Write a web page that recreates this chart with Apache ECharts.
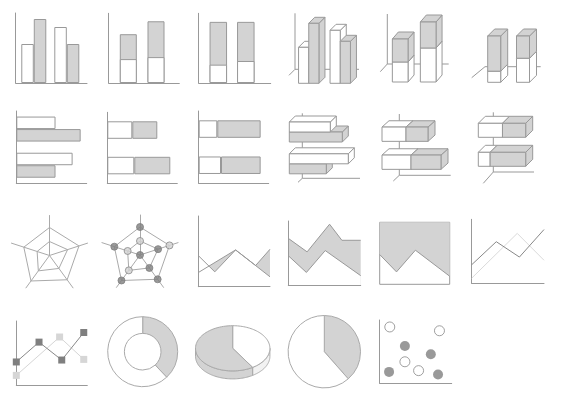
<!DOCTYPE html>
<html>
<head>
<meta charset="utf-8">
<title>Chart types</title>
<style>
    html, body { margin: 0; padding: 0; background: #fff; }
    #page { width: 568px; height: 401px; }
</style>
</head>
<body>
<div id="page"></div>
<script src="https://cdn.jsdelivr.net/npm/echarts@6/dist/echarts.min.js"></script>
<script>
var AX = '#999', GRAY = '#d3d3d3', DARK = '#7f7f7f', SOFT = '#d6d6d6', WEB = '#aaa';

// row 1 - columns (positions 1 and 2 on the x axis)
var colPos = [1, 2];
var colWhite = [39, 56], colGray = [64, 39];
var stkWhite = [24, 26], stkGray = [25, 36];
var pctWhite = [30, 36], pctGray = [70, 64];

// row 2 - bars
var barCats = ['a', 'b'];
var barWhite = [39, 56], barGray = [64, 39];
var hStkWhite = [25, 27], hStkGray = [25, 36];
var hPctWhite = [30, 36], hPctGray = [70, 64];

// 3d columns / bars
var cubeColWhite = [36, 53], cubeColGray = [60, 42];
var cubeStkWhite = [20, 34], cubeStkGray = [23, 26];
var cubePctWhite = [24, 52], cubePctGray = [76, 48];
var cubeBarWhite = [41, 59], cubeBarGray = [53, 37];
var cubeHStkWhite = [24, 29], cubeHStkGray = [22, 30];
var cubeHPctWhite = [51, 25], cubeHPctGray = [49, 75];

// row 3 - radar (top, upper left, lower left, lower right, upper right)
var radarOuter = [28, 27, 31.5, 30, 31];
var radarInner = [14, 13, 19, 16, 19];
var radarHub = [0];
var outerDark = [1, 1, 1, 1, 0];
var innerDark = [0, 0, 0, 1, 1];

// row 3 - areas and lines
var overFront = [[0, 44], [23, 21], [52, 52], [100, 14]];
var overBack = [[0, 20], [52, 52], [80, 30], [100, 53]];
var bandTop = [[0, 73], [26, 52], [57, 95], [74, 70], [100, 70]];
var bandBottom = [[0, 46], [25, 20], [51, 54], [100, 15]];
var capLine = [[0, 48], [24, 20], [51, 55], [100, 13]];
var lineDark = [[0, 29], [34, 65], [66, 41], [100, 84]];
var lineSoft = [[0, 8], [63, 78], [100, 36]];

// row 4
var markDark = [[0, 36], [32, 67], [64, 39], [95, 82]];
var markSoft = [[0, 15], [61, 75], [95, 40]];
var donutShares = [38, 62];
var pie3dShares = [41, 59];
var pieShares = [38.5, 61.5];
var dotsOpen = [[14, 89], [83, 83], [35, 34], [54, 20]];
var dotsFull = [[35, 59], [71, 46], [13, 18], [81, 14]];

var grid = [], xAxis = [], yAxis = [], series = [];

function axis(type, min, max, line, extra) {
    var a = {
        type: type, min: min, max: max, z: 3,
        axisLine: {show: line, onZero: false, lineStyle: {color: AX, width: 1}},
        axisTick: {show: false}, axisLabel: {show: false}, splitLine: {show: false}
    };
    for (var k in extra) a[k] = extra[k];
    return a;
}

function addGrid(left, top, width, height, xa, ya, box) {
    var i = grid.length;
    grid.push({
        left: left, top: top, width: width, height: height, z: 3,
        show: !!box, borderColor: AX, borderWidth: box ? 1 : 0, backgroundColor: 'transparent'
    });
    xa.gridIndex = i;
    ya.gridIndex = i;
    xAxis.push(xa);
    yAxis.push(ya);
    return i;
}

function pairs(pos, vals) {
    return pos.map(function (p, i) { return [p, vals[i]]; });
}

function sums(a, b) {
    return a.map(function (v, i) { return v + b[i]; });
}

function bars(gi, data, fill, extra) {
    var s = {
        type: 'bar', xAxisIndex: gi, yAxisIndex: gi, data: data, barGap: 0, silent: true,
        itemStyle: {color: fill, borderColor: AX, borderWidth: 1}
    };
    for (var k in extra) s[k] = extra[k];
    // stacks are shared by name across grids, so keep them per grid
    if (s.stack) s.stack = s.stack + gi;
    series.push(s);
}

// columns on a value x axis do not stack, so the total goes behind the lower part
function layered(gi, lower, upper, width) {
    bars(gi, pairs(colPos, sums(lower, upper)), GRAY, {barWidth: width});
    bars(gi, pairs(colPos, lower), '#fff', {barWidth: width, barGap: '-100%'});
}

// pseudo 3d boxes: front face + top + right side
function cubeRender(cfg) {
    var dx = cfg.depth[0], dy = cfg.depth[1], bw = cfg.bw;
    return function (params, api) {
        var pos = api.value(0), v0 = api.value(1), v1 = api.value(2);
        var fill = api.value(3) ? GRAY : '#fff', slot = api.value(4);
        var xl, xr, yt, yb;
        if (cfg.horizontal) {
            var a = api.coord([v0, pos]), b = api.coord([v1, pos]);
            xl = a[0]; xr = b[0];
            yt = a[1] + (slot - 1) * bw; yb = yt + bw;
        } else {
            var p = api.coord([pos, v0]), q = api.coord([pos, v1]);
            xl = p[0] + (slot - 1) * bw; xr = xl + bw;
            yb = p[1]; yt = q[1];
        }
        var st = {fill: fill, stroke: AX, lineWidth: 1};
        return {
            type: 'group', children: [
                {type: 'polygon', shape: {points: [[xr, yt], [xr, yb], [xr + dx, yb + dy], [xr + dx, yt + dy]]}, style: st},
                {type: 'polygon', shape: {points: [[xl, yt], [xr, yt], [xr + dx, yt + dy], [xl + dx, yt + dy]]}, style: st},
                {type: 'rect', shape: {x: xl, y: yt, width: xr - xl, height: yb - yt}, style: st}
            ]
        };
    };
}

function cubes(gi, white, gray, cfg) {
    var items = [];
    white.forEach(function (w, i) {
        var g = gray[i];
        if (cfg.stack) {
            items.push([i + 1, 0, w, 0, 0.5]);
            items.push([i + 1, w, w + g, 1, 0.5]);
        } else if (cfg.horizontal) {
            items.push([i + 1, 0, g, 1, 1]);
            items.push([i + 1, 0, w, 0, 0]);
        } else {
            items.push([i + 1, 0, w, 0, 0]);
            items.push([i + 1, 0, g, 1, 1]);
        }
    });
    series.push({type: 'custom', xAxisIndex: gi, yAxisIndex: gi, data: items, silent: true, z: 2, renderItem: cubeRender(cfg)});
}

// back walls of the 3d charts
function frame(gi, f) {
    series.push({
        type: 'custom', xAxisIndex: gi, yAxisIndex: gi, data: [[1, 0]], silent: true, z: 1,
        renderItem: function (params, api) {
            var cs = params.coordSys;
            var cx = cs.x + f.corner[0], cy = cs.y + cs.height + f.corner[1];
            var st = {stroke: AX, lineWidth: 1};
            var kids = [
                {type: 'line', shape: {x1: cx, y1: cy, x2: cx + f.right, y2: cy}, style: st},
                {type: 'line', shape: {x1: cx, y1: cy, x2: cx + f.diag[0], y2: cy + f.diag[1]}, style: st}
            ];
            if (f.up) kids.push({type: 'line', shape: {x1: cx, y1: cy, x2: cx, y2: cy - f.up}, style: st});
            return {type: 'group', children: kids};
        }
    });
}

function line(gi, data, color, extra) {
    var s = {
        type: 'line', xAxisIndex: gi, yAxisIndex: gi, data: data, symbol: 'none', silent: true, clip: false,
        lineStyle: {color: color, width: 1}, itemStyle: {color: color}
    };
    for (var k in extra) s[k] = extra[k];
    series.push(s);
}

var g;
// ---- row 1
g = addGrid(15.7, 13, 71.3, 70, axis('value', 0.452, 2.612, true), axis('value', 0, 70, true));
bars(g, pairs(colPos, colWhite), '#fff', {barWidth: 12.5});
bars(g, pairs(colPos, colGray), GRAY, {barWidth: 12.5});

g = addGrid(108.7, 13.3, 70.6, 69.7, axis('value', 0.292, 2.841, true), axis('value', 0, 70, true));
layered(g, stkWhite, stkGray, 17);

g = addGrid(198.7, 13.3, 72, 69.7, axis('value', 0.287, 2.905, true), axis('value', 0, 114, true));
layered(g, pctWhite, pctGray, 17.5);

g = addGrid(293, 13.3, 63, 70, axis('value', 0.5, 2.5, false), axis('value', 0, 70, false));
frame(g, {corner: [2, -14], up: 56, right: 64, diag: [-6, 6]});
cubes(g, cubeColWhite, cubeColGray, {bw: 10.2, depth: [6, -6]});

g = addGrid(386.2, 14, 56, 68, axis('value', 0.5, 2.5, false), axis('value', 0, 68, false));
frame(g, {corner: [1.1, -18], up: 50, right: 61.4, diag: [-7, 7.7]});
cubes(g, cubeStkWhite, cubeStkGray, {bw: 15.7, depth: [6, -7], stack: true});

g = addGrid(479.8, 36, 57.6, 46.3, axis('value', 0.5, 2.5, false), axis('value', 0, 100, false));
frame(g, {corner: [5.2, -15.6], up: 0, right: 55.7, diag: [-13.3, 11]});
cubes(g, cubePctWhite, cubePctGray, {bw: 13, depth: [7, -7], stack: true});

// ---- row 2
g = addGrid(16.3, 111, 70.4, 72.3, axis('value', 0, 70, true), axis('category', undefined, undefined, true, {data: barCats, inverse: true}));
bars(g, barWhite, '#fff', {barWidth: 12.5});
bars(g, barGray, GRAY, {barWidth: 12.5});

g = addGrid(107.3, 112.3, 70, 71, axis('value', 0, 70, true), axis('category', undefined, undefined, true, {data: barCats, inverse: true}));
bars(g, hStkWhite, '#fff', {barWidth: 17.5, stack: 's'});
bars(g, hStkGray, GRAY, {barWidth: 17.5, stack: 's'});

g = addGrid(198.7, 111, 70, 72.3, axis('value', 0, 113, true), axis('category', undefined, undefined, true, {data: barCats, inverse: true}));
bars(g, hPctWhite, '#fff', {barWidth: 17.5, stack: 's'});
bars(g, hPctGray, GRAY, {barWidth: 17.5, stack: 's'});

g = addGrid(289.3, 116.1, 70, 63.6, axis('value', 0, 70, false), axis('value', 0.5, 2.5, false, {inverse: true}));
frame(g, {corner: [13, -1.4], up: 65, right: 57.7, diag: [-4.3, 4]});
cubes(g, cubeBarWhite, cubeBarGray, {bw: 10, depth: [6, -6], horizontal: true});

g = addGrid(382, 120.2, 70, 56, axis('value', 0, 70, false), axis('value', 0.5, 2.5, false, {inverse: true}));
frame(g, {corner: [17.3, -0.9], up: 61.3, right: 51.4, diag: [-6, 5.7]});
cubes(g, cubeHStkWhite, cubeHStkGray, {bw: 14.3, depth: [7, -6.3], horizontal: true, stack: true});

g = addGrid(478.3, 115.8, 47.4, 58, axis('value', 0, 100, false), axis('value', 0.5, 2.5, false, {inverse: true}));
frame(g, {corner: [15, -1.8], up: 59.7, right: 40.7, diag: [-10, 11.3]});
cubes(g, cubeHPctWhite, cubeHPctGray, {bw: 14, depth: [7, -7], horizontal: true, stack: true});

// ---- row 3
var radar = [[49.5, 255.5], [140, 255]].map(function (c) {
    return {
        center: c, radius: 40, startAngle: 90, shape: 'polygon', splitNumber: 1,
        indicator: radarOuter.map(function () { return {name: '', max: 40}; }),
        axisName: {show: false}, splitLine: {show: false}, splitArea: {show: false},
        axisLine: {lineStyle: {color: WEB, width: 1}}, axisTick: {show: false}, axisLabel: {show: false}
    };
});
[0, 1].forEach(function (k) {
    series.push({
        type: 'radar', radarIndex: k, symbol: 'none', silent: true,
        lineStyle: {color: WEB, width: 1},
        data: [{value: radarOuter}, {value: radarInner}]
    });
});

var darkDot = {color: DARK, borderColor: DARK, borderWidth: 1};
var softDot = {color: GRAY, borderColor: '#888', borderWidth: 1};
function radarMarks(vals, dark) {
    return vals.map(function (v, i) {
        return {value: [v, 90 + 72 * i], itemStyle: dark[i] ? darkDot : softDot};
    });
}
series.push({
    type: 'scatter', coordinateSystem: 'polar', polarIndex: 0, symbolSize: 7, silent: true, z: 4,
    data: radarMarks(radarOuter, outerDark).concat(radarMarks(radarInner, innerDark))
        .concat([{value: [radarHub[0], 90], itemStyle: darkDot}])
});

g = addGrid(198.3, 216, 71.7, 70.7, axis('value', 0, 100, true), axis('value', 0, 100, true));
line(g, overBack, AX, {areaStyle: {color: GRAY, opacity: 1}});
line(g, overFront, AX, {areaStyle: {color: '#fff', opacity: 1}});

g = addGrid(288.3, 221, 72.4, 64.3, axis('value', 0, 100, true), axis('value', 0, 100, true));
line(g, bandTop, AX, {areaStyle: {color: GRAY, opacity: 1}});
line(g, bandBottom, AX, {areaStyle: {color: '#fff', opacity: 1}});

g = addGrid(379.7, 222.3, 70, 62, axis('value', 0, 100, false), axis('value', 0, 100, false), true);
line(g, capLine, AX, {areaStyle: {color: GRAY, opacity: 1, origin: 'end'}});

g = addGrid(471.7, 219.3, 72.3, 64, axis('value', 0, 100, true), axis('value', 0, 100, true));
line(g, lineSoft, '#dadada');
line(g, lineDark, '#888');

// ---- row 4
g = addGrid(16.3, 321, 71, 64, axis('value', 0, 100, true), axis('value', 0, 100, true));
line(g, markSoft, SOFT, {symbol: 'rect', symbolSize: 7, showSymbol: true});
line(g, markDark, '#888', {symbol: 'rect', symbolSize: 7, showSymbol: true, itemStyle: {color: DARK}});

function slices(shares, colors) {
    return shares.map(function (v, i) { return {value: v, itemStyle: {color: colors[i]}}; });
}
var pieCommon = {
    type: 'pie', startAngle: 90, silent: true, label: {show: false}, labelLine: {show: false},
    itemStyle: {borderColor: WEB, borderWidth: 1}, emphasis: {disabled: true}
};
series.push(Object.assign({}, pieCommon, {center: [142.7, 351.7], radius: [18.3, 35], data: slices(donutShares, [GRAY, '#fff'])}));
series.push(Object.assign({}, pieCommon, {center: [324.3, 351.7], radius: 36.2, data: slices(pieShares, [GRAY, '#fff'])}));

// 3d pie on its own grid: x and y run -1..1 over the ellipse
g = addGrid(195.5, 325.7, 74.4, 45.2, axis('value', -1, 1, false), axis('value', -1, 1, false));
var pieTop = ['#fff', GRAY], pieSide = ['#f2f2f2', GRAY];
var pieTotal = pie3dShares.reduce(function (s, v) { return s + v; }, 0);
var pieItems = [], acc = 0;
pie3dShares.forEach(function (v, i) {
    pieItems.push([acc / pieTotal, (acc + v) / pieTotal, i]);
    acc += v;
});
series.push({
    type: 'custom', xAxisIndex: g, yAxisIndex: g, data: pieItems, silent: true,
    renderItem: function (params, api) {
        var c = api.coord([0, 0]), rx = api.size([1, 0])[0], ry = api.size([0, 1])[1];
        var a0 = api.value(0) * 2 * Math.PI, a1 = api.value(1) * 2 * Math.PI, k = api.value(2);
        var H = 8, n = 60, j;
        function pt(a, drop) { return [c[0] + rx * Math.sin(a), c[1] - ry * Math.cos(a) + (drop || 0)]; }
        var kids = [];
        var s0 = Math.max(a0, Math.PI / 2), s1 = Math.min(a1, 1.5 * Math.PI);
        if (s1 > s0) {
            var upper = [], lower = [];
            for (j = 0; j <= n; j++) {
                var a = s0 + (s1 - s0) * j / n;
                upper.push(pt(a));
                lower.push(pt(a, H));
            }
            kids.push({type: 'polygon', shape: {points: upper.concat(lower.reverse())}, style: {fill: pieSide[k], stroke: WEB, lineWidth: 1}});
        }
        var topPts = [c];
        for (j = 0; j <= n; j++) topPts.push(pt(a0 + (a1 - a0) * j / n));
        kids.push({type: 'polygon', shape: {points: topPts}, style: {fill: pieTop[k], stroke: WEB, lineWidth: 1}});
        return {type: 'group', children: kids};
    }
});

g = addGrid(379.7, 320, 72, 63.3, axis('value', 0, 100, true), axis('value', 0, 100, true));
series.push({type: 'scatter', xAxisIndex: g, yAxisIndex: g, data: dotsOpen, symbolSize: 10, silent: true,
    itemStyle: {color: '#fff', borderColor: '#888', borderWidth: 1}});
series.push({type: 'scatter', xAxisIndex: g, yAxisIndex: g, data: dotsFull, symbolSize: 10, silent: true,
    itemStyle: {color: DARK}});

var chart = echarts.init(document.getElementById('page'));
chart.setOption({
    animation: false,
    backgroundColor: '#fff',
    grid: grid,
    xAxis: xAxis,
    yAxis: yAxis,
    radar: radar,
    polar: {center: [140, 255], radius: 40},
    angleAxis: {type: 'value', min: 0, max: 360, startAngle: 0, clockwise: false, show: false},
    radiusAxis: {type: 'value', min: 0, max: 40, show: false},
    series: series
});
</script>
</body>
</html>
